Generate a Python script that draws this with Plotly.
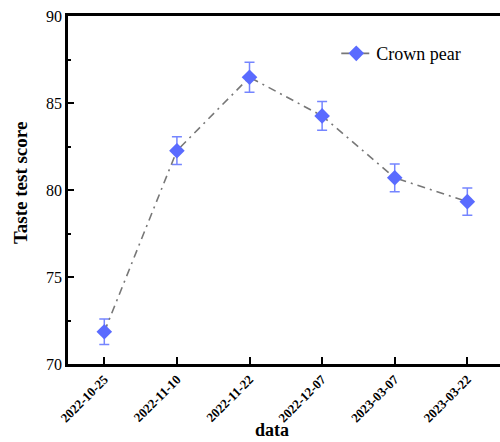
import plotly.graph_objects as go

# Sampling dates, mean taste scores and their standard deviations
dates = ["2022-10-25", "2022-11-10", "2022-11-22", "2022-12-07", "2023-03-07", "2023-03-22"]
scores = [71.85, 82.26, 86.48, 84.26, 80.70, 79.33]
errors = [0.73, 0.80, 0.86, 0.82, 0.80, 0.78]
series_name = "Crown pear"

serif = "Liberation Serif, Times New Roman, serif"

fig = go.Figure()
fig.add_trace(go.Scatter(
    x=dates,
    y=scores,
    name=series_name,
    mode="lines+markers",
    line=dict(color="#777777", width=1.6, dash="8px,5px,2px,5px"),
    marker=dict(symbol="diamond", size=12, color="#5a6bff"),
    error_y=dict(type="data", array=errors, visible=True,
                 color="#7585ff", thickness=1.5, width=5),
))

# Axis titles placed as paper annotations
fig.add_annotation(
    text="<b>data</b>", xref="paper", yref="paper",
    x=0.472, y=-0.19, xanchor="center", yanchor="middle",
    showarrow=False, font=dict(family=serif, size=18, color="black"),
)
fig.add_annotation(
    text="<b>Taste test score</b>", xref="paper", yref="paper",
    x=-0.111, y=0.52, xanchor="center", yanchor="middle", textangle=-90,
    showarrow=False, font=dict(family=serif, size=19, color="black"),
)

fig.update_layout(
    width=500,
    height=442,
    margin=dict(l=68, r=0, t=16, b=78),
    paper_bgcolor="white",
    plot_bgcolor="white",
    font=dict(family=serif, color="black"),
    showlegend=True,
    legend=dict(
        x=0.621, y=0.945, xanchor="left", yanchor="top",
        bgcolor="rgba(0,0,0,0)",
        font=dict(family=serif, size=18, color="black"),
    ),
    xaxis=dict(
        type="category",
        range=[-0.5, 5.45],
        showgrid=False,
        zeroline=False,
        showline=True,
        linecolor="black",
        linewidth=2.5,
        mirror=True,
        ticks="inside",
        ticklen=7,
        tickwidth=2,
        tickcolor="black",
        tickangle=-45,
        tickfont=dict(family=serif, size=13, color="black", weight="bold"),
    ),
    yaxis=dict(
        range=[70, 90],
        tickvals=[70, 75, 80, 85, 90],
        showgrid=False,
        zeroline=False,
        showline=True,
        linecolor="black",
        linewidth=2.5,
        ticks="inside",
        ticklen=6,
        tickwidth=2,
        tickcolor="black",
        tickfont=dict(family=serif, size=16, color="black"),
        minor=dict(tickvals=[72.5, 77.5, 82.5, 87.5], ticks="inside",
                   ticklen=3, tickwidth=1.5, tickcolor="black"),
    ),
)

fig.write_html("out.html")
